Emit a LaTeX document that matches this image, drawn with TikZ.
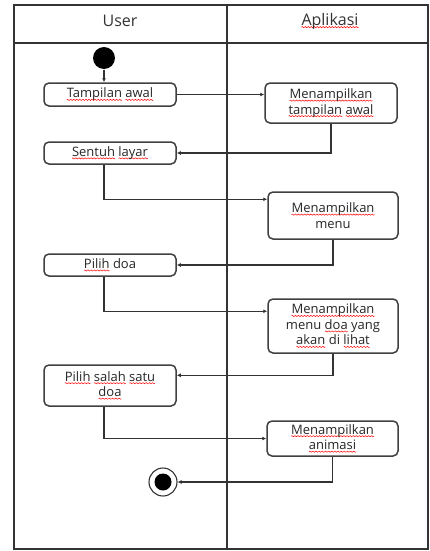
\documentclass[tikz,border=0pt]{standalone}
\usepackage{fontspec}
\setmainfont{Open Sans}
\usepackage{xcolor}
\usepackage{tikz}
\usetikzlibrary{calc,shapes,arrows.meta}
\newsavebox\wavebox
\newsavebox\wordbox
\newcommand\redwave[1]{\sbox\wordbox{#1}\rlap{\raisebox{-3pt}{\hbox to \wd\wordbox{\xleaders\copy\wavebox\hfill}}}\usebox\wordbox}
\tikzset{act/.style={draw=black!75,rounded corners=5pt,line width=1.5pt,align=center,inner sep=1pt,text=black!85,font=\fontsize{13}{15.5}\selectfont}}

\begin{document}
\sbox\wavebox{\begin{pgfpicture}
	\pgfsetlinewidth{0.5pt}
	\pgfsetstrokecolor{red}
	\pgfpathmoveto{\pgfpoint{0pt}{0pt}}
	\pgfpathsine{\pgfpoint{0.75pt}{0.6pt}}
	\pgfpathcosine{\pgfpoint{0.75pt}{-0.6pt}}
	\pgfpathsine{\pgfpoint{0.75pt}{-0.6pt}}
	\pgfpathcosine{\pgfpoint{0.75pt}{0.6pt}}
	\pgfusepath{stroke}
	\pgfresetboundingbox
	\pgfpathrectangle{\pgfpoint{0pt}{-1pt}}{\pgfpoint{3pt}{2pt}}
	\pgfusepath{use as bounding box}
\end{pgfpicture}}
\begin{tikzpicture}[x=1pt,y=-1pt,>={Latex[length=4pt,width=4pt]},line width=1.1pt,draw=black!80]
		\useasboundingbox (0,0) rectangle (429,551);
		% swimlanes
		\draw [line width=1.3pt] (14,5) rectangle (428,549);
		\draw [line width=1.3pt] (14,43) -- (428,43);
		\draw [line width=1.3pt] (227,5) -- (227,549);
		\node [text=black!80,font=\fontsize{16}{19}\selectfont] (h1) at (120,21) {User};
		\node [text=black!80,font=\fontsize{16}{19}\selectfont] (h2) at (330,21) {\redwave{Aplikasi}};
		
		\node [circle,fill,minimum size=22pt,inner sep=0] (0) at (104,58) {};
		\node [act,minimum width=132pt,minimum height=23pt] (1) at (110,94.5) {\redwave{Tampilan} \redwave{awal}};
		\node [act,minimum width=132pt,minimum height=40pt] (2) at (331,103) {\redwave{Menampilkan}\\\redwave{tampilan} \redwave{awal}};
		\node [act,minimum width=132pt,minimum height=22pt] (3) at (110,153) {\redwave{Sentuh} \redwave{layar}};
		\node [act,minimum width=130pt,minimum height=47pt] (4) at (333,215.5) {\redwave{Menampilkan}\\menu};
		\node [act,minimum width=132pt,minimum height=22pt] (5) at (110,265) {\redwave{Pilih} doa};
		\node [act,minimum width=130pt,minimum height=54pt] (6) at (333,326) {\redwave{Menampilkan}\\menu \redwave{doa} yang\\\redwave{akan} di \redwave{lihat}};
		\node [act,minimum width=132pt,minimum height=41pt] (7) at (110,385.5) {\redwave{Pilih} \redwave{salah} \redwave{satu}\\\redwave{doa}};
		\node [act,minimum width=131pt,minimum height=35pt] (8) at (332.5,438.5) {\redwave{Menampilkan}\\\redwave{animasi}};
		\node [circle,draw,minimum size=28pt,inner sep=0] (9) at (163,482) {};
		\fill (9.center) circle (8.5);
		
		\draw [->] (0) -- (0 |- 1.north);
		\draw [->] (1) -- (1 -| 2.west);
		\draw [->] (2) |- (3);
		\draw [->] ([xshift=-6pt]3.south) |- ([yshift=-8pt]4.north west);
		\draw [->] (4) |- (5);
		\draw [->] ([xshift=-6pt]5.south) |- ([yshift=-13pt]6.north west);
		\draw [->] (6) |- ([yshift=-11pt]7.north east);
		\draw [->] ([xshift=-6pt]7.south) |- (8);
		\draw [->] (8) |- (9);
\end{tikzpicture}
\end{document}
